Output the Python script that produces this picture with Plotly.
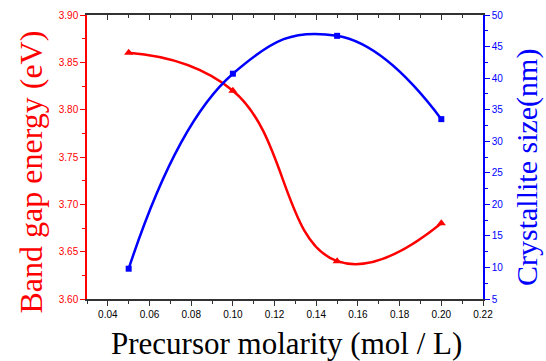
import plotly.graph_objects as go

molarity = [0.05, 0.10, 0.15, 0.20]
band_gap = [3.86, 3.82, 3.64, 3.68]
crystallite = [9.8, 40.7, 46.7, 33.5]

x_ticks = [0.04, 0.06, 0.08, 0.10, 0.12, 0.14, 0.16, 0.18, 0.20, 0.22]
y1_ticks = [3.60, 3.65, 3.70, 3.75, 3.80, 3.85, 3.90]
y2_ticks = [5, 10, 15, 20, 25, 30, 35, 40, 45, 50]

RED = "#ff0000"
BLUE = "#0000ff"
serif = "Liberation Serif, Times New Roman, serif"
sans = "Liberation Sans, Arial, sans-serif"

L, R, T, B = 87, 63, 15, 62
W, H = 546, 361
PW, PH = W - L - R, H - T - B


def px_x(x):
    return (x - L) / PW


def px_y(y):
    return (H - B - y) / PH


fig = go.Figure()
fig.add_trace(go.Scatter(
    x=molarity, y=band_gap, mode="lines+markers",
    line=dict(color=RED, width=2.5, shape="spline", smoothing=1.3),
    marker=dict(symbol="triangle-up", size=8, color=RED),
    name="Band gap", yaxis="y"))
fig.add_trace(go.Scatter(
    x=molarity, y=crystallite, mode="lines+markers",
    line=dict(color=BLUE, width=2.5, shape="spline", smoothing=1.3),
    marker=dict(symbol="square", size=6, color=BLUE),
    name="Crystallite size", yaxis="y2"))
# dummy trace to show top axis with inward ticks
fig.add_trace(go.Scatter(x=[None], y=[None], xaxis="x2", yaxis="y",
                         showlegend=False, hoverinfo="skip"))

fig.update_layout(
    width=W, height=H,
    margin=dict(l=L, r=R, t=T, b=B),
    paper_bgcolor="white", plot_bgcolor="white",
    showlegend=False,
    xaxis=dict(
        range=[0.03, 0.22], tickvals=x_ticks,
        ticktext=[f"{v:.2f}" for v in x_ticks],
        ticks="outside", ticklen=5, tickwidth=1, tickcolor="#333",
        minor=dict(dtick=0.01, ticks="outside", ticklen=3, tickcolor="#333"),
        showline=True, linecolor="#333", linewidth=1.5,
        showgrid=False, zeroline=False, automargin=False,
        tickfont=dict(family=sans, size=10, color="black"),
    ),
    xaxis2=dict(
        range=[0.03, 0.22], overlaying="x", side="top", anchor="y",
        tickvals=x_ticks, showticklabels=False,
        ticks="inside", ticklen=5, tickwidth=1, tickcolor="#333",
        minor=dict(dtick=0.01, ticks="inside", ticklen=3, tickcolor="#333"),
        showline=True, linecolor="#333", linewidth=1.5,
        showgrid=False, zeroline=False, automargin=False,
    ),
    yaxis=dict(
        range=[3.60, 3.90], tickvals=y1_ticks,
        ticktext=[f"{v:.2f}" for v in y1_ticks],
        ticks="outside", ticklen=5, tickwidth=1, tickcolor=RED,
        minor=dict(dtick=0.025, ticks="outside", ticklen=3, tickcolor=RED),
        showline=True, linecolor=RED, linewidth=1.5,
        showgrid=False, zeroline=False, automargin=False,
        tickfont=dict(family=sans, size=10, color=RED),
    ),
    yaxis2=dict(
        range=[5, 50], tickvals=y2_ticks, overlaying="y", side="right",
        anchor="x",
        ticks="outside", ticklen=5, tickwidth=1, tickcolor=BLUE,
        minor=dict(dtick=2.5, ticks="outside", ticklen=3, tickcolor=BLUE),
        showline=True, linecolor=BLUE, linewidth=1.5,
        showgrid=False, zeroline=False, automargin=False,
        tickfont=dict(family=sans, size=10, color=BLUE),
    ),
    annotations=[
        dict(text="Precursor molarity (mol / L)", xref="paper", yref="paper",
             x=px_x(286), y=px_y(343), xanchor="center", yanchor="middle",
             showarrow=False, font=dict(family=serif, size=31, color="black")),
        dict(text="Band gap energy (eV)", xref="paper", yref="paper",
             x=px_x(30.5), y=px_y(172), xanchor="center", yanchor="middle",
             textangle=-90, showarrow=False,
             font=dict(family=serif, size=32, color=RED)),
        dict(text="Crystallite size(nm)", xref="paper", yref="paper",
             x=px_x(527), y=px_y(168), xanchor="center", yanchor="middle",
             textangle=-90, showarrow=False,
             font=dict(family=serif, size=30, color=BLUE)),
    ],
)

fig.write_html("out.html",
               config={"displayModeBar": False},
               post_script="document.body.style.margin='0';"
                           "document.body.style.overflow='hidden';")
